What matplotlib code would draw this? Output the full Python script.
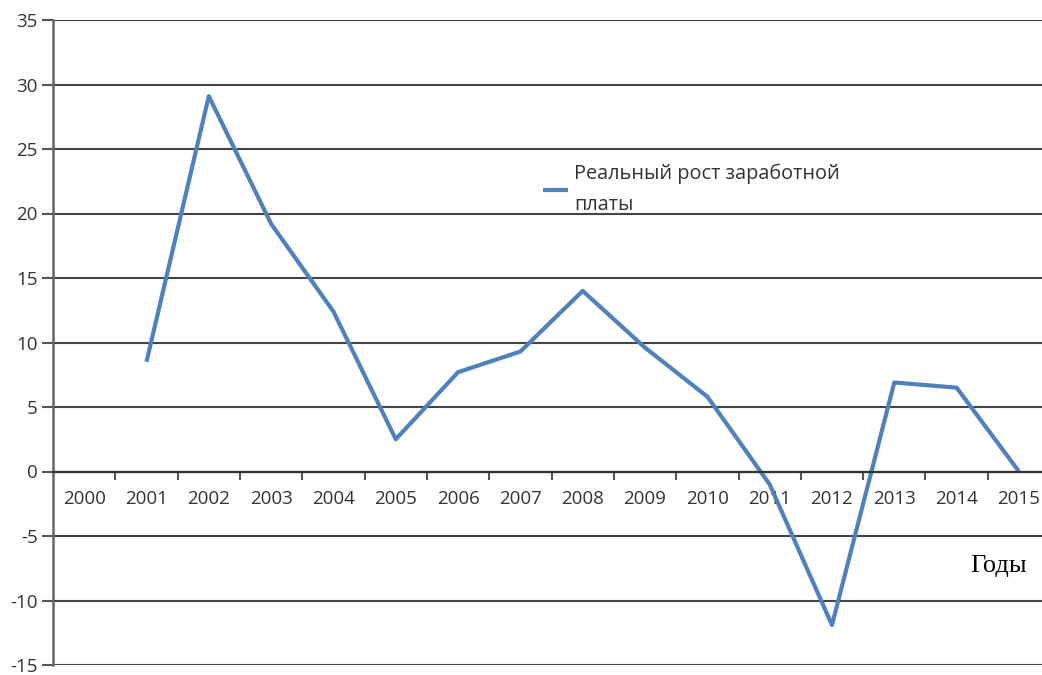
import numpy as np
import matplotlib
matplotlib.use('Agg')
import matplotlib.pyplot as plt

# Data
years = ['2000', '2001', '2002', '2003', '2004', '2005', '2006', '2007',
         '2008', '2009', '2010', '2011', '2012', '2013', '2014', '2015']
growth_years = years[1:]
growth = [8.5, 29.1, 19.2, 12.4, 2.5, 7.7, 9.3, 14.0, 9.6, 5.8, -1.0, -11.9, 6.9, 6.5, 0.0]
yticks = [-15, -10, -5, 0, 5, 10, 15, 20, 25, 30, 35]

plt.rcParams['font.family'] = ['Open Sans', 'DejaVu Sans']

fig = plt.figure(figsize=(10.42, 6.75), dpi=100)
ax = fig.add_axes([53 / 1042, 10 / 675, 1 - 53 / 1042, 645 / 675])

x = [years.index(y) for y in growth_years]
line, = ax.plot(x, growth, color='#4F81BD', linewidth=3.0, solid_capstyle='butt',
                label='Реальный рост заработной\nплаты')

ax.set_xlim(-0.5, 15.37)
ax.set_ylim(-15, 35)

# grid
for v in yticks:
    ax.axhline(v, color='#444444', linewidth=1.5, zorder=0)

for s in ['top', 'right']:
    ax.spines[s].set_visible(False)
ax.spines['left'].set_color('#666666')
ax.spines['left'].set_linewidth(1.8)
ax.spines['bottom'].set_position(('data', 0))
ax.spines['bottom'].set_color('#333333')
ax.spines['bottom'].set_linewidth(1.6)

ax.set_yticks(yticks)
ax.set_yticklabels([str(v) for v in yticks], fontsize=13.5, color='#333333')
ax.tick_params(axis='y', length=8, width=1.5, color='#555555', pad=3)

ax.set_xticks(range(len(years)))
ax.set_xticklabels(years, fontsize=13.5, color='#333333')
ax.set_xticks(np.arange(0.5, 15.5, 1), minor=True)
ax.tick_params(axis='x', which='major', length=0, pad=13)
ax.tick_params(axis='x', which='minor', length=6, width=1.5, color='#555555', direction='out')

ax.legend(handles=[line], loc='upper left', bbox_to_anchor=(0.487, 0.79), frameon=False,
          fontsize=14.3, handlelength=1.3, handletextpad=0.3, labelcolor='#333333',
          borderaxespad=0)
for t in ax.get_legend().get_texts():
    t.set_linespacing(1.75)

ax.text(0.985, -7.3, 'Годы', transform=ax.get_yaxis_transform(), family='Liberation Serif',
        fontsize=19, ha='right', va='center', color='black')

fig.savefig('out.png', dpi=100)
